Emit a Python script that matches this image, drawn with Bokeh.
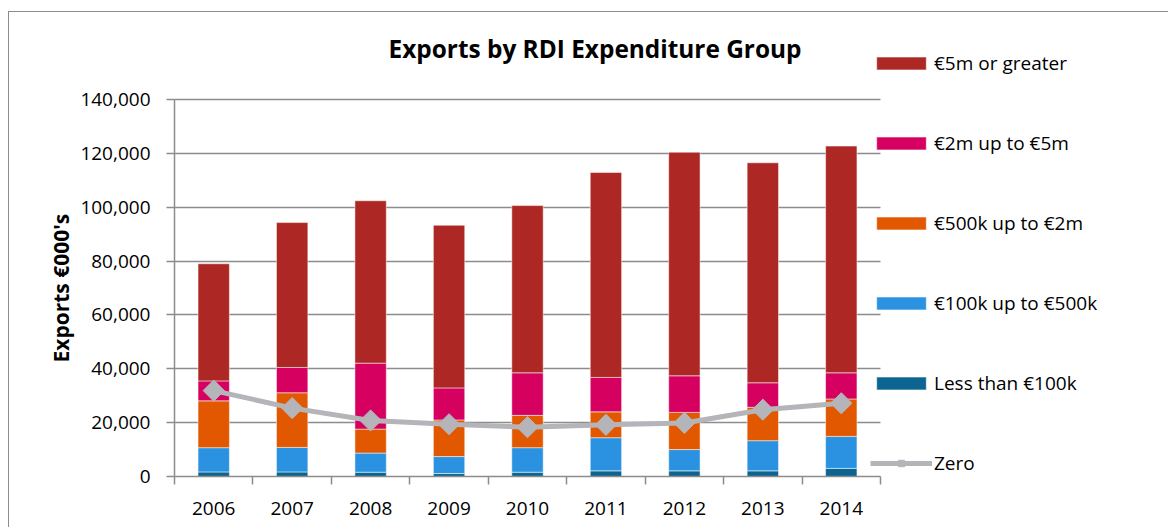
import numpy as np
from bokeh.plotting import figure
from bokeh.models import (Range1d, FixedTicker, NumeralTickFormatter, Legend, LegendItem,
                          ColumnDataSource, Title, Label)
from bokeh.embed import file_html
from bokeh.resources import INLINE

years = ["2006", "2007", "2008", "2009", "2010", "2011", "2012", "2013", "2014"]
less_100k = [1700, 1700, 1600, 1100, 1600, 2100, 2100, 2100, 3000]
k100_500k = [9000, 9100, 7100, 6300, 9100, 12300, 7900, 11200, 11900]
k500_2m = [17400, 20300, 8900, 13600, 12000, 9600, 13800, 12400, 13900]
m2_5m = [7400, 9400, 24500, 11900, 15800, 12800, 13600, 9100, 9700]
m5_plus = [43500, 53800, 60300, 60400, 62100, 76100, 83000, 81700, 84200]
zero = [31900, 25400, 20800, 19400, 18300, 19200, 19900, 24800, 27200]

series_names = ["Less than €100k", "€100k up to €500k", "€500k up to €2m",
                "€2m up to €5m", "€5m or greater"]
colors = ["#0b6590", "#2a92e0", "#e25800", "#d5005f", "#ad2824"]
chart_title = "Exports by RDI Expenditure Group"
y_title = "Exports €000's"

FONT = "Open Sans"
GRID = "#8c8c8c"
Y_MAX = 140000

n = len(years)
xc = [i + 0.5 for i in range(n)]
keys = ["s0", "s1", "s2", "s3", "s4"]
src = ColumnDataSource(dict(x=xc, s0=less_100k, s1=k100_500k, s2=k500_2m, s3=m2_5m,
                            s4=m5_plus, zero=zero))

# The frame spans to the right and top edges so that the legend and the title
# (drawn inside it) are not clipped; the category part of the x axis covers
# 706 of its 995 px, the value part of the y axis 377 of its 444 px.
p = figure(width=1160, height=516, output_backend="svg", toolbar_location=None,
           x_range=Range1d(0, n * 995 / 706), y_range=Range1d(0, Y_MAX * 444 / 377),
           min_border_left=165, min_border_right=0, min_border_top=20,
           min_border_bottom=52)
p.styles = {"margin-top": "11px", "margin-left": "8px",
            "border-top": "1px solid #8c8c8c", "border-left": "1px solid #8c8c8c"}
p.outline_line_color = None
p.background_fill_color = "white"
p.border_fill_color = "white"
p.title.text = ""
p.title.text_font_size = "1px"
p.title.standoff = 0

bars = p.vbar_stack(keys, x="x", width=0.4, source=src, color=colors,
                    line_color="white", line_alpha=0.5, line_width=1)
ln = p.line("x", "zero", source=src, line_color="#b4b4b9", line_width=5)
mk = p.scatter("x", "zero", source=src, marker="square", angle=np.pi / 4, size=15,
               fill_color="#b4b4b9", line_color="#b4b4b9")

# chart title (baseline 428 px above the zero line, centred 420 px right of the axis)
p.add_layout(Label(x=n * 420.5 / 706, y=Y_MAX * 428 / 377, text=chart_title,
                   text_align="center", text_baseline="alphabetic",
                   text_font=FONT, text_font_size="24.4px", text_font_style="bold",
                   text_color="black"))

# y-axis title, centred on the value part of the axis
p.add_layout(Title(text=y_title, align="left", offset=114, standoff=6,
                   text_font=FONT, text_font_size="21px", text_font_style="bold",
                   text_color="black"), "left")

# axes
xa = p.xaxis[0]
xa.bounds = (0, n)
xa.ticker = FixedTicker(ticks=xc, minor_ticks=list(range(n + 1)))
xa.major_label_overrides = {c: y for c, y in zip(xc, years)}
xa.major_tick_in = 0
xa.major_tick_out = 0
xa.minor_tick_in = 0
xa.minor_tick_out = 8
xa.minor_tick_line_color = GRID
xa.minor_tick_line_width = 1.5
xa.axis_line_color = GRID
xa.axis_line_width = 1.5
xa.major_label_text_font = FONT
xa.major_label_text_font_size = "19px"
xa.major_label_text_color = "black"
xa.major_label_standoff = 17

ya = p.yaxis[0]
ya.bounds = (0, Y_MAX)
ya.ticker = FixedTicker(ticks=list(range(0, Y_MAX + 1, 20000)), minor_ticks=[])
ya.formatter = NumeralTickFormatter(format="0,0")
ya.major_tick_in = 0
ya.major_tick_out = 8
ya.major_tick_line_color = GRID
ya.major_tick_line_width = 1.5
ya.minor_tick_line_color = None
ya.axis_line_color = GRID
ya.axis_line_width = 1.5
ya.major_label_text_font = FONT
ya.major_label_text_font_size = "19px"
ya.major_label_text_color = "black"
ya.major_label_standoff = 16

p.xgrid.grid_line_color = None
yg = p.ygrid[0]
yg.grid_line_color = GRID
yg.grid_line_width = 1.5
if "cross_bounds" in yg.properties():
    yg.cross_bounds = (0, n)

items = [LegendItem(label=series_names[i], renderers=[bars[i]]) for i in range(4, -1, -1)]
items.append(LegendItem(label="Zero", renderers=[ln, mk]))
legend = Legend(items=items, location=(696, 0), orientation="vertical",
                glyph_width=62, glyph_height=16, label_height=16, spacing=54,
                label_standoff=2, padding=0, margin=0,
                border_line_color=None, background_fill_alpha=0,
                label_text_font=FONT, label_text_font_size="19px",
                label_text_color="black")
p.add_layout(legend, "center")

open("out.html", "w").write(file_html(p, INLINE))
